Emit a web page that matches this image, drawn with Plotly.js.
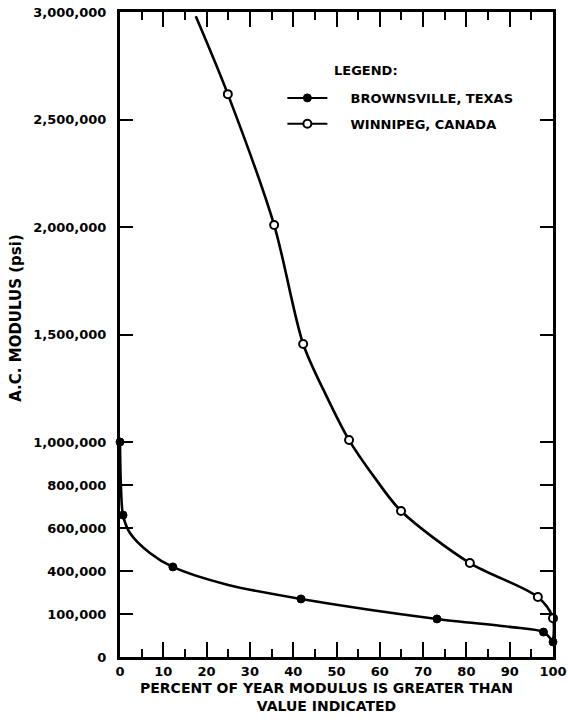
<!DOCTYPE html>
<html>
<head>
<meta charset="utf-8">
<script src="https://cdn.plot.ly/plotly-3.0.1.min.js"></script>
<style>html,body{margin:0;padding:0;background:#fff;}#chart{width:568px;height:727px;}</style>
</head>
<body>
<div id="chart"></div>
<script>
// Observed data points (markers)
const brownsvillePct = [0, 0.7, 12.2, 41.8, 73.2, 97.8, 100];
const brownsvilleMod = [1000000, 660000, 419000, 270000, 177000, 116000, 70000];
const winnipegPct = [24.9, 35.6, 42.3, 52.9, 64.9, 80.8, 96.5, 100];
const winnipegMod = [2618000, 2009000, 1456000, 1009000, 679000, 437000, 279000, 180000];

// Points
const brownsvilleCurvePct = [0, 0.2, 0.7, 2.3, 6.9, 12.2, 25, 41.8, 73.2, 90, 97.8, 100];
const brownsvilleCurveMod = [1000000, 800000, 660000, 577000, 484000, 419000, 335000, 270000, 177000, 140000, 116000, 70000];
const winnipegCurvePct = [17.5, 24.9, 35.6, 42.3, 47.8, 52.9, 58.9, 64.9, 80.8, 96.5, 100, 100];
const winnipegCurveMod = [2980000, 2618000, 2009000, 1456000, 1209000, 1009000, 832000, 679000, 437000, 279000, 180000, 70000];

// Axis ticks
const yTickVals = [0, 200000, 400000, 600000, 800000, 1000000, 1500000, 2000000, 2500000, 3000000];
const yTickText = ['0', '100,000', '400,000', '600,000', '800,000', '1,000,000', '1,500,000', '2,000,000', '2,500,000', '3,000,000'];
const xTickVals = [0, 10, 20, 30, 40, 50, 60, 70, 80, 90, 100];
const xTickText = ['0', '10', '20', '30', '40', '50', '60', '70', '80', '90', '100'];

const seriesNames = ['BROWNSVILLE, TEXAS', 'WINNIPEG, CANADA'];
const xTitle = 'PERCENT OF YEAR MODULUS IS GREATER THAN<br>VALUE INDICATED';
const yTitle = 'A.C. MODULUS (psi)';
const legendTitle = 'LEGEND:';

const FONT = 'DejaVu Sans, Verdana, sans-serif';
const lineStyle = {color: '#000', width: 2.6, shape: 'spline', smoothing: 0.85};
const filledMarker = {symbol: 'circle', size: 8, color: '#000', line: {color: '#000', width: 1}};
const openMarker = {symbol: 'circle', size: 8, color: '#fff', line: {color: '#000', width: 2}};
const pad = '\u00A0\u00A0\u00A0\u00A0';

const traces = [
  {x: brownsvilleCurvePct, y: brownsvilleCurveMod, mode: 'lines', line: lineStyle, showlegend: false, hoverinfo: 'skip'},
  {x: winnipegCurvePct, y: winnipegCurveMod, mode: 'lines', line: lineStyle, showlegend: false, hoverinfo: 'skip'},
  {x: brownsvillePct, y: brownsvilleMod, mode: 'markers', marker: filledMarker, showlegend: false, cliponaxis: false},
  {x: winnipegPct, y: winnipegMod, mode: 'markers', marker: openMarker, showlegend: false, cliponaxis: false},
  {x: [null], y: [null], mode: 'lines+markers', name: pad + seriesNames[0], legendgroup: 'a',
   line: {color: '#000', width: 2}, marker: filledMarker},
  {x: [null], y: [null], mode: 'lines+markers', name: pad + seriesNames[1], legendgroup: 'b',
   line: {color: '#000', width: 2}, marker: openMarker}
];

const layout = {
  width: 568, height: 727,
  margin: {l: 120, r: 15, t: 12, b: 70},
  paper_bgcolor: '#fff', plot_bgcolor: '#fff',
  font: {family: FONT, color: '#000', size: 13},
  showlegend: true,
  legend: {x: 0.375, y: 0.89, xanchor: 'left', yanchor: 'top', bgcolor: 'rgba(0,0,0,0)',
           font: {family: FONT, size: 13, color: '#000', weight: 'bold'}, tracegroupgap: 6,
           traceorder: 'grouped', itemwidth: 40},
  annotations: [
    {text: '<b>' + legendTitle + '</b>', xref: 'paper', yref: 'paper', x: 0.49, y: 0.895, xanchor: 'left', yanchor: 'bottom',
     showarrow: false, font: {family: FONT, size: 13, color: '#000'}},
    {text: '<b>' + xTitle + '</b>', xref: 'paper', yref: 'paper', x: 0.478, y: -0.032, xanchor: 'center', yanchor: 'top',
     showarrow: false, font: {family: FONT, size: 14, color: '#000'}},
    {text: '<b>' + yTitle + '</b>', xref: 'paper', yref: 'paper', x: -0.24, y: 0.526, xanchor: 'center', yanchor: 'middle',
     textangle: -90, showarrow: false, font: {family: FONT, size: 15, color: '#000'}}
  ],
  xaxis: {
    range: [0, 100], tickvals: xTickVals, ticktext: xTickText,
    ticks: 'inside', ticklen: 15, tickwidth: 2, tickcolor: '#000',
    minor: {dtick: 5, tick0: 0, ticks: 'inside', ticklen: 8, tickwidth: 2, tickcolor: '#000', showgrid: false},
    showline: true, linewidth: 3, linecolor: '#000', mirror: 'ticks',
    showgrid: false, zeroline: false,
    tickfont: {family: FONT, size: 13, color: '#000', weight: 'bold'}
  },
  yaxis: {
    range: [0, 3000000], tickvals: yTickVals, ticktext: yTickText,
    ticks: 'inside', ticklen: 13, tickwidth: 2, tickcolor: '#000',
    showline: true, linewidth: 3, linecolor: '#000', mirror: 'ticks',
    showgrid: false, zeroline: false, ticklabelstandoff: 8,
    tickfont: {family: FONT, size: 13, color: '#000', weight: 'bold'}
  },
  yaxis2: {
    overlaying: 'y', side: 'left', range: [0, 3000000], tickvals: [1000000],
    ticks: 'inside', ticklen: 21, tickwidth: 2, tickcolor: '#000',
    showticklabels: false, showline: true, linewidth: 3, linecolor: '#000', mirror: 'ticks',
    showgrid: false, zeroline: false
  }
};

Plotly.newPlot('chart', traces, layout, {displayModeBar: false, staticPlot: true});
</script>
</body>
</html>
